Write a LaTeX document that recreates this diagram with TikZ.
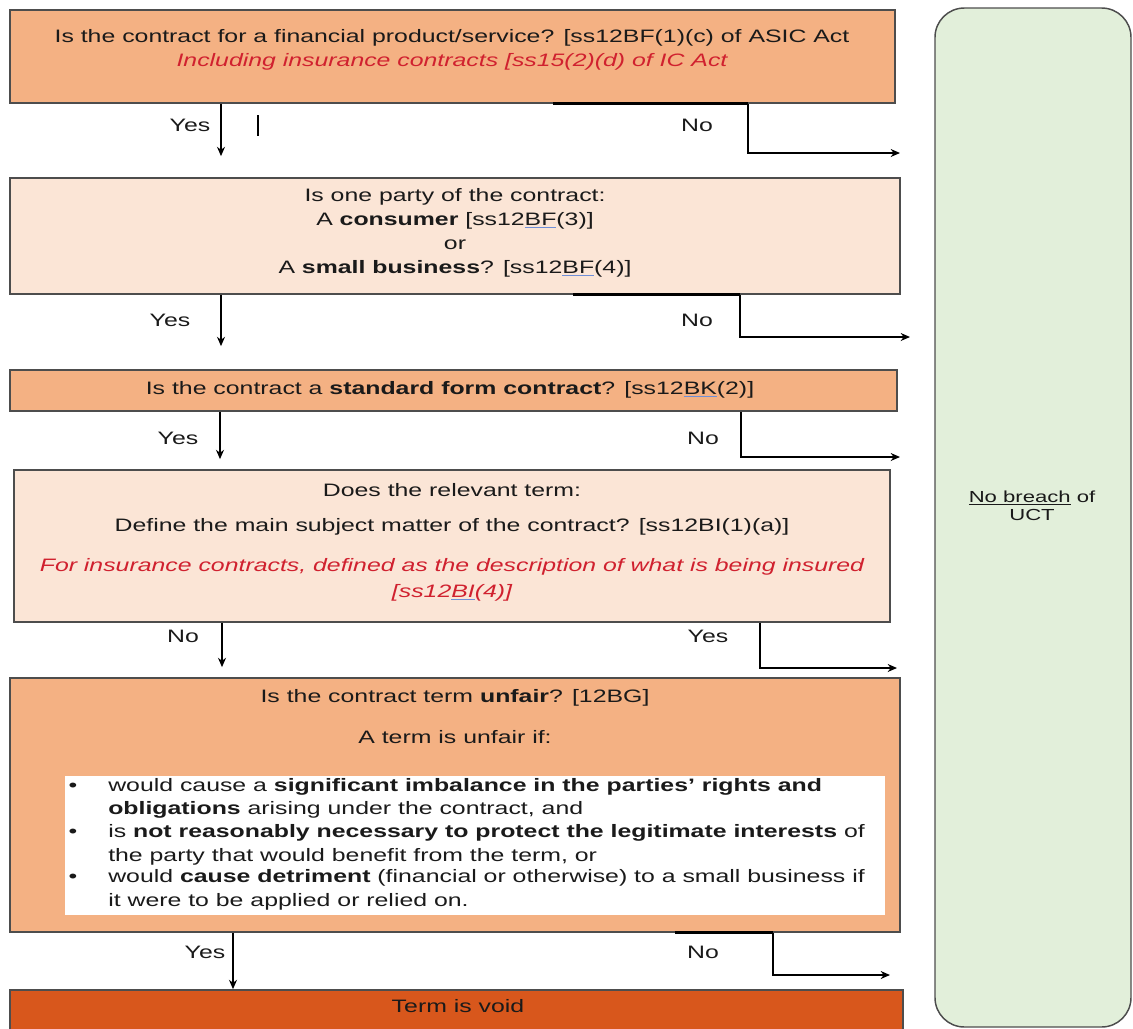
\documentclass[tikz,border=0pt]{standalone}
\usepackage{fontspec}
\setmainfont{Liberation Sans}[FakeStretch=1.38]
\usetikzlibrary{arrows.meta,fit,calc}
\definecolor{salmon}{HTML}{F4B183}
\definecolor{peach}{HTML}{FBE5D6}
\definecolor{voidorange}{HTML}{D8571C}
\definecolor{nogreen}{HTML}{E2EFDA}
\definecolor{redtxt}{HTML}{D0212F}
\definecolor{txtc}{HTML}{1A1A1A}
\definecolor{edgec}{HTML}{4D4D4D}
\definecolor{ulblue}{HTML}{6F8FD8}
\newcommand\squig[2]{{\color{ulblue}\underline{\color{#1}#2}}}
\begin{document}
\begin{tikzpicture}[x=0.75pt,y=-0.75pt,
  box/.style={draw=edgec, line width=1.3pt, inner sep=0pt},
  txt/.style={inner sep=0pt, text=txtc, font=\fontsize{13.5pt}{18pt}\selectfont},
  redt/.style={txt, text=redtxt, font=\fontsize{13.5pt}{18pt}\selectfont\itshape},
  lbl/.style={txt},
  arr/.style={line width=0.9pt, -{Stealth[length=7pt,width=6pt]}},
  bar/.style={line width=2.2pt, line cap=butt}]
\clip (0,0) rectangle (1133,1029);
% ---------- boxes ----------
\node[box, fill=salmon, fit={(10,10) (895,103)}] (b1) {};
\node[box, fill=peach,  fit={(10,178) (900,294)}] (b2) {};
\node[box, fill=salmon, fit={(10,370) (897,411)}] (b3) {};
\node[box, fill=peach,  fit={(14,470) (890,622)}] (b4) {};
\node[box, fill=salmon, fit={(10,678) (900,932)}] (b5) {};
\node[fill=white, inner sep=0pt, fit={(65,776) (885,915)}] (wb) {};
\node[box, fill=voidorange, fit={(10,990) (903,1040)}] (b6) {};
\node[draw=edgec, line width=1.1pt, fill=nogreen, rounded corners=22pt, inner sep=0pt, fit={(935,8) (1131,1027)}] (g) {};
% ---------- texts ----------
\node[txt] (t1a) at (452,38) {Is the contract for a financial product/service? [ss12BF(1)(c) of ASIC Act};
\node[redt] (t1b) at (452,62) {Including insurance contracts [ss15(2)(d) of IC Act};

\node[txt] (t2a) at (455,197) {Is one party of the contract:};
\node[txt] (t2b) at (455,221) {A \textbf{consumer} [ss12\squig{txtc}{BF}(3)]};
\node[txt] (t2c) at (455,245) {or};
\node[txt] (t2d) at (455,269) {A \textbf{small business}? [ss12\squig{txtc}{BF}(4)]};

\node[txt] (t3) at (450,390) {Is the contract a \textbf{standard form contract}? [ss12\squig{txtc}{BK}(2)]};

\node[txt] (t4a) at (452,490) {Does the relevant term:};
\node[txt] (t4b) at (452,527) {Define the main subject matter of the contract? [ss12BI(1)(a)]};
\node[redt] (t4c) at (452,567) {For insurance contracts, defined as the description of what is being insured};
\node[redt] (t4d) at (452,593) {[ss12\squig{redtxt}{BI}(4)]};

\node[txt] (t5a) at (455,698) {Is the contract term \textbf{unfair}? [12BG]};
\node[txt] (t5b) at (455,737) {A term is unfair if:};
\node[txt] (u1) at (73,787) {\textbullet};
\node[txt] (u2) at (73,833) {\textbullet};
\node[txt] (u3) at (73,878) {\textbullet};
\node[txt, anchor=west] (l1) at (108,787) {would cause a \textbf{significant imbalance in the parties' rights and}};
\node[txt, anchor=west] (l2) at (108,810) {\textbf{obligations} arising under the contract, and};
\node[txt, anchor=west] (l3) at (108,833) {is \textbf{not reasonably necessary to protect the legitimate interests} of};
\node[txt, anchor=west] (l4) at (108,857) {the party that would benefit from the term, or};
\node[txt, anchor=west] (l5) at (108,878) {would \textbf{cause detriment} (financial or otherwise) to a small business if};
\node[txt, anchor=west] (l6) at (108,902) {it were to be applied or relied on.};

\node[txt] (t6) at (458,1006) {Term is void};

\node[txt, font=\fontsize{12pt}{14pt}\selectfont] (g1) at (1032,498) {\underline{No breach} of};
\node[txt, font=\fontsize{12pt}{14pt}\selectfont] (g2) at (1032,515) {UCT};

% ---------- labels ----------
\node[lbl] (y1) at (190,125) {Yes};
\node[lbl] (n1) at (697,125) {No};
\node[lbl] (y2) at (170,320) {Yes};
\node[lbl] (n2) at (697,320) {No};
\node[lbl] (y3) at (178,438) {Yes};
\node[lbl] (n3) at (703,438) {No};
\node[lbl] (n4) at (183,636) {No};
\node[lbl] (y4) at (708,636) {Yes};
\node[lbl] (y5) at (205,952) {Yes};
\node[lbl] (n5) at (703,952) {No};

% ---------- coordinates ----------
\coordinate (x1) at (221,0);   \coordinate (x2) at (221,0);
\coordinate (x3) at (220,0);   \coordinate (x4) at (222,0);
\coordinate (x5) at (233,0);
\coordinate (nb1) at (553,0);  \coordinate (nx1) at (748,0);  \coordinate (ne1) at (900,153);
\coordinate (nb2) at (573,0);  \coordinate (nx2) at (740,0);  \coordinate (ne2) at (910,337);
\coordinate (nx3) at (741,0);  \coordinate (ne3) at (900,457);
\coordinate (nx4) at (760,0);  \coordinate (ne4) at (897,668);
\coordinate (nb5) at (675,0);  \coordinate (nx5) at (773,0);  \coordinate (ne5) at (890,975);

% ---------- connectors ----------
\draw[arr] (b1.south -| x1) -- ($(b2.north -| x1)+(0,-21)$);
\draw[line width=0.9pt] (258,115) -- (258,136);
\draw[bar] (b1.south -| nb1) -- (b1.south -| nx1);
\draw[arr] (b1.south -| nx1) -- (ne1 -| nx1) -- (ne1);

\draw[arr] (b2.south -| x2) -- ($(b3.north -| x2)+(0,-23)$);
\draw[bar] (b2.south -| nb2) -- (b2.south -| nx2);
\draw[arr] (b2.south -| nx2) -- (ne2 -| nx2) -- (ne2);

\draw[arr] (b3.south -| x3) -- ($(b4.north -| x3)+(0,-10)$);
\draw[arr] (b3.south -| nx3) -- (ne3 -| nx3) -- (ne3);

\draw[arr] (b4.south -| x4) -- ($(b5.north -| x4)+(0,-10)$);
\draw[arr] (b4.south -| nx4) -- (ne4 -| nx4) -- (ne4);

\draw[arr] (b5.south -| x5) -- (b6.north -| x5);
\draw[bar] (b5.south -| nb5) -- (b5.south -| nx5);
\draw[arr] (b5.south -| nx5) -- (ne5 -| nx5) -- (ne5);
\end{tikzpicture}
\end{document}
